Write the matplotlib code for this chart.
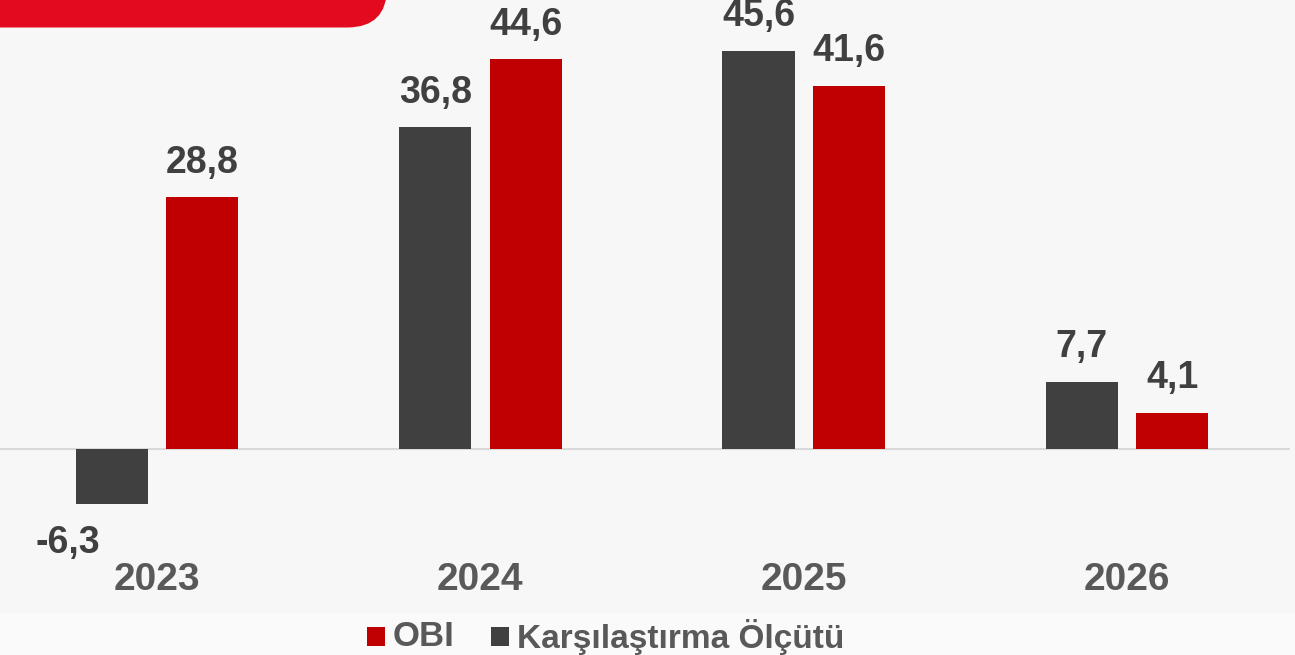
import matplotlib
matplotlib.use("Agg")
import matplotlib.pyplot as plt
from matplotlib.patches import FancyBboxPatch, Rectangle

years = ["2023", "2024", "2025", "2026"]
obi = [28.8, 44.6, 41.6, 4.1]
benchmark = [-6.3, 36.8, 45.6, 7.7]
obi_labels = ["28,8", "44,6", "41,6", "4,1"]
benchmark_labels = ["-6,3", "36,8", "45,6", "7,7"]
legend_names = ["OBI", "Karşılaştırma Ölçütü"]

RED = "#c00000"
GREY = "#404040"
TXT = "#595959"
FONT = "Liberation Sans"

W, H = 1295, 655
fig = plt.figure(figsize=(W / 100, H / 100), dpi=100)
fig.patch.set_facecolor("#fafafa")

# background axes in pixel coordinates
bg = fig.add_axes([0, 0, 1, 1], zorder=-2)
bg.set_xlim(0, W)
bg.set_ylim(H, 0)
bg.axis("off")
bg.add_patch(Rectangle((0, 0), W, 613, facecolor="#f7f7f7", edgecolor="none"))
bg.add_patch(FancyBboxPatch((-100, -100), 487, 127.5,
                            boxstyle="round,pad=0,rounding_size=40",
                            facecolor="#e30a1f", edgecolor="none"))

# main axes
ax = fig.add_axes([0, (H - 613) / H, 1290 / W, 613 / H])
ax.set_facecolor("none")
ax.set_xlim(-0.486, 3.504)
ax.set_ylim(-18.8, 51.4)
ax.axis("off")

x = list(range(len(years)))
bw = 0.223
off = 0.14
ax.axhline(0, color="#d9d9d9", lw=1.5, zorder=1)
ax.bar([i - off for i in x], benchmark, width=bw, color=GREY, zorder=2)
ax.bar([i + off for i in x], obi, width=bw, color=RED, zorder=2)

fs = 27
for i, (v, lab) in enumerate(zip(benchmark, benchmark_labels)):
    if v >= 0:
        ax.annotate(lab, (i - off, v), xytext=(0, 25), textcoords="offset points",
                    ha="center", va="center", fontsize=fs, fontweight="bold",
                    color=GREY, family=FONT)
    else:
        ax.annotate(lab, (i - off, v), xytext=(-32, -28), textcoords="offset points",
                    ha="center", va="center", fontsize=fs, fontweight="bold",
                    color=GREY, family=FONT)
for i, (v, lab) in enumerate(zip(obi, obi_labels)):
    ax.annotate(lab, (i + off, v), xytext=(0, 25), textcoords="offset points",
                ha="center", va="center", fontsize=fs, fontweight="bold",
                color=GREY, family=FONT)

for i, y in enumerate(years):
    ax.text(i, -15.0, y, ha="center", va="center", fontsize=28,
            fontweight="bold", color=TXT, family=FONT)

# legend
bg.add_patch(Rectangle((367, 627), 18, 19, facecolor=RED, edgecolor="none"))
bg.text(393, 637, legend_names[0], ha="left", va="center", fontsize=25,
        fontweight="bold", color=TXT, family=FONT)
bg.add_patch(Rectangle((491, 627), 18, 19, facecolor=GREY, edgecolor="none"))
bg.text(517, 637, legend_names[1], ha="left", va="center", fontsize=24,
        fontweight="bold", color=TXT, family=FONT)

fig.savefig("out.png", dpi=100, facecolor=fig.get_facecolor())
